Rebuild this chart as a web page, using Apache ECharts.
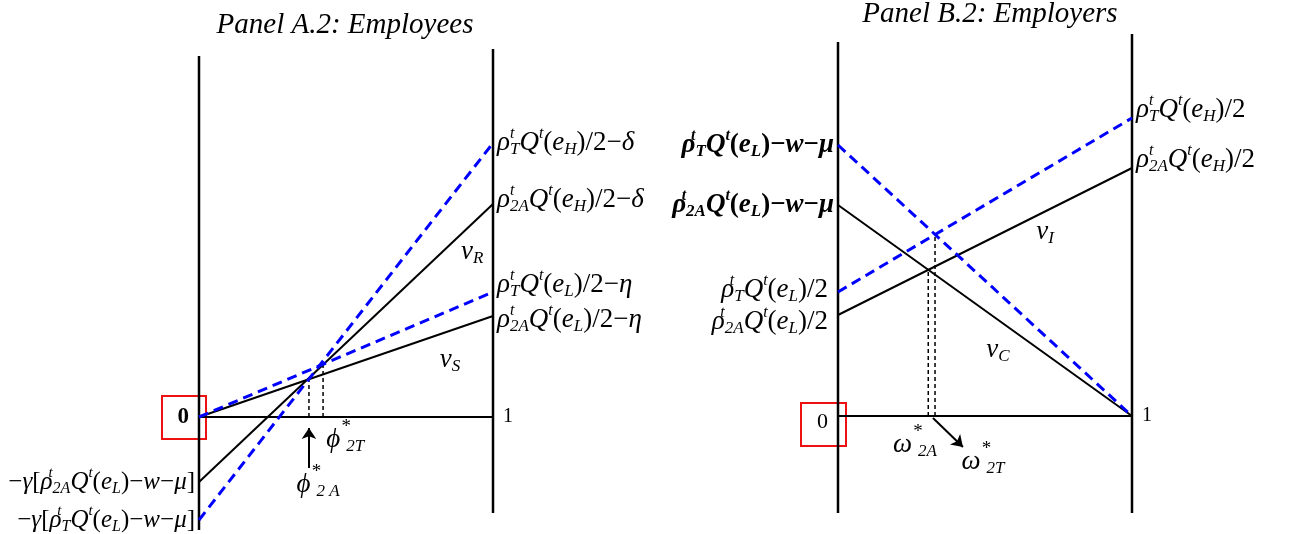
<!DOCTYPE html>
<html>
<head>
<meta charset="utf-8">
<script src="https://cdn.jsdelivr.net/npm/echarts@6/dist/echarts.min.js"></script>
<style>
  html, body { margin: 0; padding: 0; background: #fff; }
  #main { width: 1289px; height: 534px; }
</style>
</head>
<body>
<div id="main"></div>
<script>
// 数据 (y 以横轴为 0，单位与画面像素一致)
// Panel A.2: Employees
var aBlueSteep = [[0, -103], [1, 274]];
var aBlackSteep = [[0, -65], [1, 213]];
var aBlueFlat = [[0, 0], [1, 125]];
var aBlackFlat = [[0, 0], [1, 101]];
var aDrop1 = [[0.374, 0], [0.374, 38]];
var aDrop2 = [[0.422, 0], [0.422, 54]];
var aFrameLeft = [[0, -113], [0, 361]];
var aFrameRight = [[1, -96], [1, 368]];
var aBase = [[0, 0], [1, 0]];
var aArrow = [[0.374, -51], [0.374, -11]];

// Panel B.2: Employers
var bBlueDown = [[0, 271], [1, 0]];
var bBlackDown = [[0, 211], [1, 0]];
var bBlueUp = [[0, 124], [1, 298]];
var bBlackUp = [[0, 101], [1, 248]];
var bDrop1 = [[0.307, 0], [0.307, 146]];
var bDrop2 = [[0.330, 0], [0.330, 181]];
var bFrameLeft = [[0, -97], [0, 374]];
var bFrameRight = [[1, -97], [1, 382]];
var bBase = [[0, 0], [1, 0]];
var bArrow = [[0.323, -2], [0.425, -31]];

// 文字标签
var aRightLabels = [
    '{r|ρ}{sp|t}{sb|T}{r|Q}{sq|t}{n|(}{r|e}{sb|H}{n|)/2−}{r|δ}',
    '{r|ρ}{sp|t}{sb|2A}{r|Q}{sq|t}{n|(}{r|e}{sb|H}{n|)/2−}{r|δ}',
    '{r|ρ}{sp|t}{sb|T}{r|Q}{sq|t}{n|(}{r|e}{sb|L}{n|)/2−}{r|η}',
    '{r|ρ}{sp|t}{sb|2A}{r|Q}{sq|t}{n|(}{r|e}{sb|L}{n|)/2−}{r|η}'
];
var aLeftLabels = [
    '{n|−}{r|γ}{n|[}{r|ρ}{sp|t}{sb|2A}{r|Q}{sq|t}{n|(}{r|e}{sb|L}{n|)−}{r|w}{n|−}{r|μ}{n|]}',
    '{n|−}{r|γ}{n|[}{r|ρ}{sp|t}{sb|T}{r|Q}{sq|t}{n|(}{r|e}{sb|L}{n|)−}{r|w}{n|−}{r|μ}{n|]}'
];
var bLeftLabels = [
    '{rb|ρ}{spb|t}{sbb|T}{rb|Q}{sqb|t}{nb|(}{rb|e}{sbb|L}{nb|)−}{rb|w}{nb|−}{rb|μ}',
    '{rb|ρ}{spb|t}{sbb|2A}{rb|Q}{sqb|t}{nb|(}{rb|e}{sbb|L}{nb|)−}{rb|w}{nb|−}{rb|μ}',
    '{r|ρ}{sp|t}{sb|T}{r|Q}{sq|t}{n|(}{r|e}{sb|L}{n|)/2}',
    '{r|ρ}{sp|t}{sb|2A}{r|Q}{sq|t}{n|(}{r|e}{sb|L}{n|)/2}'
];
var bRightLabels = [
    '{r|ρ}{sp|t}{sb|T}{r|Q}{sq|t}{n|(}{r|e}{sb|H}{n|)/2}',
    '{r|ρ}{sp|t}{sb|2A}{r|Q}{sq|t}{n|(}{r|e}{sb|H}{n|)/2}'
];
var aNotes = [
    [0.929, 165, '{r|v}{sb|R}'],
    [0.854, 57, '{r|v}{sb|S}'],
    [0.497, -23, '{r|ϕ}{st|*}{sb|2T}'],
    [0.405, -68, '{r|ϕ}{st|*}{sb|2 A}']
];
var bNotes = [
    [0.704, 184, '{r|v}{sb|I}'],
    [0.544, 66, '{r|v}{sb|C}'],
    [0.262, -29, '{r|ω}{st|*}{sb|2A}'],
    [0.493, -46, '{r|ω}{st|*}{sb|2T}']
];
var titles = ['Panel A.2: Employees', 'Panel B.2: Employers'];

var serif = '"Liberation Serif", "DejaVu Serif", serif';
function mk(size, italic, bold, extra) {
    var s = { fontFamily: serif, fontSize: size, color: '#000' };
    if (italic) s.fontStyle = 'italic';
    if (bold) s.fontWeight = 'bold';
    for (var k in extra) s[k] = extra[k];
    return s;
}
function richSet(big, small) {
    return {
        r: mk(big, true, false),
        n: mk(big, false, false),
        sp: mk(small - 1, true, false, { width: 0, padding: [0, 0, 18, 0] }),
        sq: mk(small - 1, true, false, { padding: [0, 0, 18, 0] }),
        sb: mk(small, true, false, { padding: [13, 0, 0, 0] }),
        st: mk(small + 2, false, false, { width: 0, padding: [0, 0, 26, 6] }),
        rb: mk(big, true, true),
        nb: mk(big, false, true),
        spb: mk(small - 1, true, true, { width: 0, padding: [0, 0, 18, 0] }),
        sqb: mk(small - 1, true, true, { padding: [0, 0, 18, 0] }),
        sbb: mk(small, true, true, { padding: [13, 0, 0, 0] })
    };
}
var rich = richSet(27, 17);
var richLeftA = richSet(25, 16);

var chart = echarts.init(document.getElementById('main'));

function seg(idx, data, color, width, dashed) {
    return {
        type: 'line', xAxisIndex: idx, yAxisIndex: idx, data: data,
        symbol: 'none', clip: false, silent: true,
        lineStyle: { color: color, width: width, type: dashed || 'solid' }
    };
}
var blueDash = [10, 6];
var dropDash = [4, 3];

function endLabel(point, text, pos, off, rs) {
    return {
        value: point,
        label: { show: true, position: pos, distance: 4, offset: off || [0, 0], color: '#000', formatter: text, rich: rs || rich }
    };
}

function labelSeries(idx, items) {
    return {
        type: 'scatter', xAxisIndex: idx, yAxisIndex: idx, symbolSize: 0, silent: true,
        itemStyle: { opacity: 1, color: '#000' },
        data: items
    };
}

function arrow(idx, pts) {
    return {
        type: 'line', xAxisIndex: idx, yAxisIndex: idx, data: [], silent: true,
        markLine: {
            silent: true, symbol: ['none', 'arrow'], symbolSize: 11, animation: false,
            label: { show: false },
            lineStyle: { color: '#000', width: 2, type: 'solid' },
            data: [[{ coord: pts[0] }, { coord: pts[1] }]]
        }
    };
}

function note(d) {
    return { value: [d[0], d[1]], label: { show: true, position: 'inside', color: '#000', textBorderWidth: 0, formatter: d[2], rich: rich } };
}

var aItems = [
    endLabel(aBlueSteep[1], aRightLabels[0], 'right', [0, 0]),
    endLabel(aBlackSteep[1], aRightLabels[1], 'right', [0, -4]),
    endLabel(aBlueFlat[1], aRightLabels[2], 'right', [0, -7]),
    endLabel(aBlackFlat[1], aRightLabels[3], 'right', [0, 4]),
    endLabel(aBlackSteep[0], aLeftLabels[0], 'left', [0, 0], richLeftA),
    endLabel(aBlueSteep[0], aLeftLabels[1], 'left', [0, 0], richLeftA),
    { value: aBase[0], label: { show: true, position: 'left', distance: 10, formatter: '0', fontFamily: serif, fontWeight: 'bold', fontSize: 23, color: '#000' } },
    { value: aBase[1], label: { show: true, position: 'right', distance: 10, formatter: '1', fontFamily: serif, fontSize: 20, color: '#000' } }
].concat(aNotes.map(note));

var bItems = [
    endLabel(bBlueDown[0], bLeftLabels[0], 'left', [0, 0]),
    endLabel(bBlackDown[0], bLeftLabels[1], 'left', [0, 0]),
    endLabel(bBlueUp[0], bLeftLabels[2], 'left', [-6, -2]),
    endLabel(bBlackUp[0], bLeftLabels[3], 'left', [-6, 7]),
    endLabel(bBlueUp[1], bRightLabels[0], 'right', [0, -8]),
    endLabel(bBlackUp[1], bRightLabels[1], 'right', [0, -8]),
    { value: bBase[0], label: { show: true, position: 'left', distance: 10, offset: [0, 6], formatter: '0', fontFamily: serif, fontSize: 22, color: '#000' } },
    { value: bBase[1], label: { show: true, position: 'right', distance: 10, formatter: '1', fontFamily: serif, fontSize: 20, color: '#000' } }
].concat(bNotes.map(note));

var option = {
    animation: false,
    backgroundColor: '#fff',
    grid: [
        { left: 199, width: 294, top: 49, height: 481 },
        { left: 838, width: 294, top: 34, height: 479 }
    ],
    xAxis: [
        { type: 'value', gridIndex: 0, min: 0, max: 1, show: false },
        { type: 'value', gridIndex: 1, min: 0, max: 1, show: false }
    ],
    yAxis: [
        { type: 'value', gridIndex: 0, min: -113, max: 368, show: false },
        { type: 'value', gridIndex: 1, min: -97, max: 382, show: false }
    ],
    graphic: [
        { type: 'text', x: 345, y: 25, style: { text: titles[0], font: 'italic 29px ' + serif, fill: '#000', textAlign: 'center', textVerticalAlign: 'middle' } },
        { type: 'text', x: 990, y: 14, style: { text: titles[1], font: 'italic 29px ' + serif, fill: '#000', textAlign: 'center', textVerticalAlign: 'middle' } },
        { type: 'rect', shape: { x: 162, y: 396, width: 44, height: 43 }, style: { fill: 'none', stroke: '#ee1111', lineWidth: 2 } },
        { type: 'rect', shape: { x: 801, y: 403, width: 45, height: 43 }, style: { fill: 'none', stroke: '#ee1111', lineWidth: 2 } }
    ],
    series: [
        // Panel A
        seg(0, aFrameLeft, '#000', 2.5),
        seg(0, aFrameRight, '#000', 2.5),
        seg(0, aBase, '#000', 2),
        seg(0, aDrop1, '#000', 1.5, dropDash),
        seg(0, aDrop2, '#000', 1.5, dropDash),
        seg(0, aBlackSteep, '#000', 2),
        seg(0, aBlackFlat, '#000', 2),
        seg(0, aBlueSteep, '#0000ff', 3, blueDash),
        seg(0, aBlueFlat, '#0000ff', 3, blueDash),
        arrow(0, aArrow),
        labelSeries(0, aItems),
        // Panel B
        seg(1, bFrameLeft, '#000', 2.5),
        seg(1, bFrameRight, '#000', 2.5),
        seg(1, bBase, '#000', 2),
        seg(1, bDrop1, '#000', 1.5, dropDash),
        seg(1, bDrop2, '#000', 1.5, dropDash),
        seg(1, bBlackDown, '#000', 2),
        seg(1, bBlackUp, '#000', 2),
        seg(1, bBlueDown, '#0000ff', 3, blueDash),
        seg(1, bBlueUp, '#0000ff', 3, blueDash),
        arrow(1, bArrow),
        labelSeries(1, bItems)
    ]
};

chart.setOption(option);
</script>
</body>
</html>
